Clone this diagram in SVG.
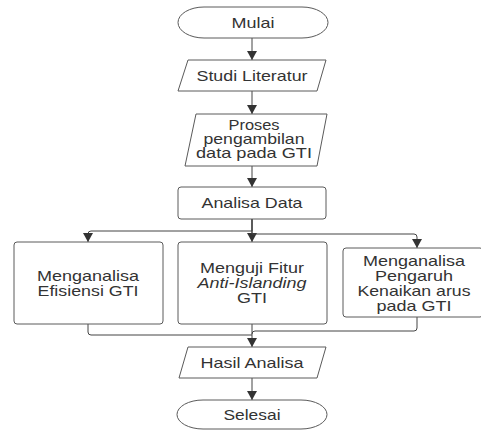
<svg xmlns="http://www.w3.org/2000/svg" width="481" height="430" viewBox="0 0 481 430">
<style>
.shape{fill:#ffffff;stroke:#5a5a5a;stroke-width:1}
.t{font-family:"Liberation Sans",Arial,sans-serif;font-size:15px;fill:#333333;text-anchor:middle}
.i{font-style:italic}
.c{fill:none;stroke:#444444;stroke-width:1}
</style>
<defs>
<marker id="ah" markerWidth="9" markerHeight="10" refX="9" refY="5" orient="auto" markerUnits="userSpaceOnUse">
<path d="M0,0 L9,5 L0,10 Z" fill="#333333"/>
</marker>
</defs>
<rect width="481" height="430" fill="#ffffff"/>
<g id="connectors">
<path class="c" d="M252,38 V60" marker-end="url(#ah)"/>
<path class="c" d="M252,91 V114" marker-end="url(#ah)"/>
<path class="c" d="M252,166 V187" marker-end="url(#ah)"/>
<path class="c" d="M252,219 V242" marker-end="url(#ah)"/>
<path class="c" d="M252,219 V231 H91 Q88,231 88,234 V242" marker-end="url(#ah)"/>
<path class="c" d="M252,219 V234 H414 Q417,234 417,237 V248" marker-end="url(#ah)"/>
<path class="c" d="M88,324 V332 Q88,335 91,335 H252"/>
<path class="c" d="M417,317 V328 Q417,331 414,331 H255 Q252,331 252,334"/>
<path class="c" d="M252,324 V347" marker-end="url(#ah)"/>
<path class="c" d="M252,378 V400" marker-end="url(#ah)"/>
</g>
<g id="mulai">
<rect class="shape" x="178" y="7" width="150" height="31" rx="26" ry="15.5"/>
<text class="t" x="253" y="28" textLength="43" lengthAdjust="spacingAndGlyphs">Mulai</text>
</g>
<g id="studi">
<path class="shape" d="M188,60 H326 L317,91 H178 Z" stroke-linejoin="round"/>
<text class="t" x="252" y="80.5" textLength="111" lengthAdjust="spacingAndGlyphs">Studi Literatur</text>
</g>
<g id="proses">
<path class="shape" d="M196,114 H327 L317,166 H185 Z" stroke-linejoin="round"/>
<text class="t" x="254" y="130" textLength="51" lengthAdjust="spacingAndGlyphs">Proses</text>
<text class="t" x="254" y="144" textLength="101" lengthAdjust="spacingAndGlyphs">pengambilan</text>
<text class="t" x="254" y="158" textLength="116" lengthAdjust="spacingAndGlyphs">data pada GTI</text>
</g>
<g id="analisa">
<rect class="shape" x="178" y="187" width="148" height="32" rx="3"/>
<text class="t" x="252" y="208" textLength="101" lengthAdjust="spacingAndGlyphs">Analisa Data</text>
</g>
<g id="efisiensi">
<rect class="shape" x="14" y="242" width="149" height="82" rx="3"/>
<text class="t" x="88" y="281" textLength="102" lengthAdjust="spacingAndGlyphs">Menganalisa</text>
<text class="t" x="88" y="296" textLength="101" lengthAdjust="spacingAndGlyphs">Efisiensi GTI</text>
</g>
<g id="antiislanding">
<rect class="shape" x="178" y="242" width="149" height="82" rx="3"/>
<text class="t" x="252" y="273" textLength="104" lengthAdjust="spacingAndGlyphs">Menguji Fitur</text>
<text class="t i" x="252" y="288" textLength="109" lengthAdjust="spacingAndGlyphs">Anti-Islanding</text>
<text class="t" x="252" y="303" textLength="30" lengthAdjust="spacingAndGlyphs">GTI</text>
</g>
<g id="pengaruh">
<rect class="shape" x="343" y="248" width="140" height="69" rx="3"/>
<text class="t" x="414" y="265.5" textLength="102" lengthAdjust="spacingAndGlyphs">Menganalisa</text>
<text class="t" x="414" y="280.5" textLength="78" lengthAdjust="spacingAndGlyphs">Pengaruh</text>
<text class="t" x="414" y="295.5" textLength="113" lengthAdjust="spacingAndGlyphs">Kenaikan arus</text>
<text class="t" x="414" y="310.5" textLength="75" lengthAdjust="spacingAndGlyphs">pada GTI</text>
</g>
<g id="hasil">
<path class="shape" d="M188,347 H326 L317,378 H179 Z" stroke-linejoin="round"/>
<text class="t" x="252" y="368" textLength="103" lengthAdjust="spacingAndGlyphs">Hasil Analisa</text>
</g>
<g id="selesai">
<rect class="shape" x="177" y="400" width="150" height="29" rx="26" ry="14.5"/>
<text class="t" x="252" y="420" textLength="57" lengthAdjust="spacingAndGlyphs">Selesai</text>
</g>
</svg>
